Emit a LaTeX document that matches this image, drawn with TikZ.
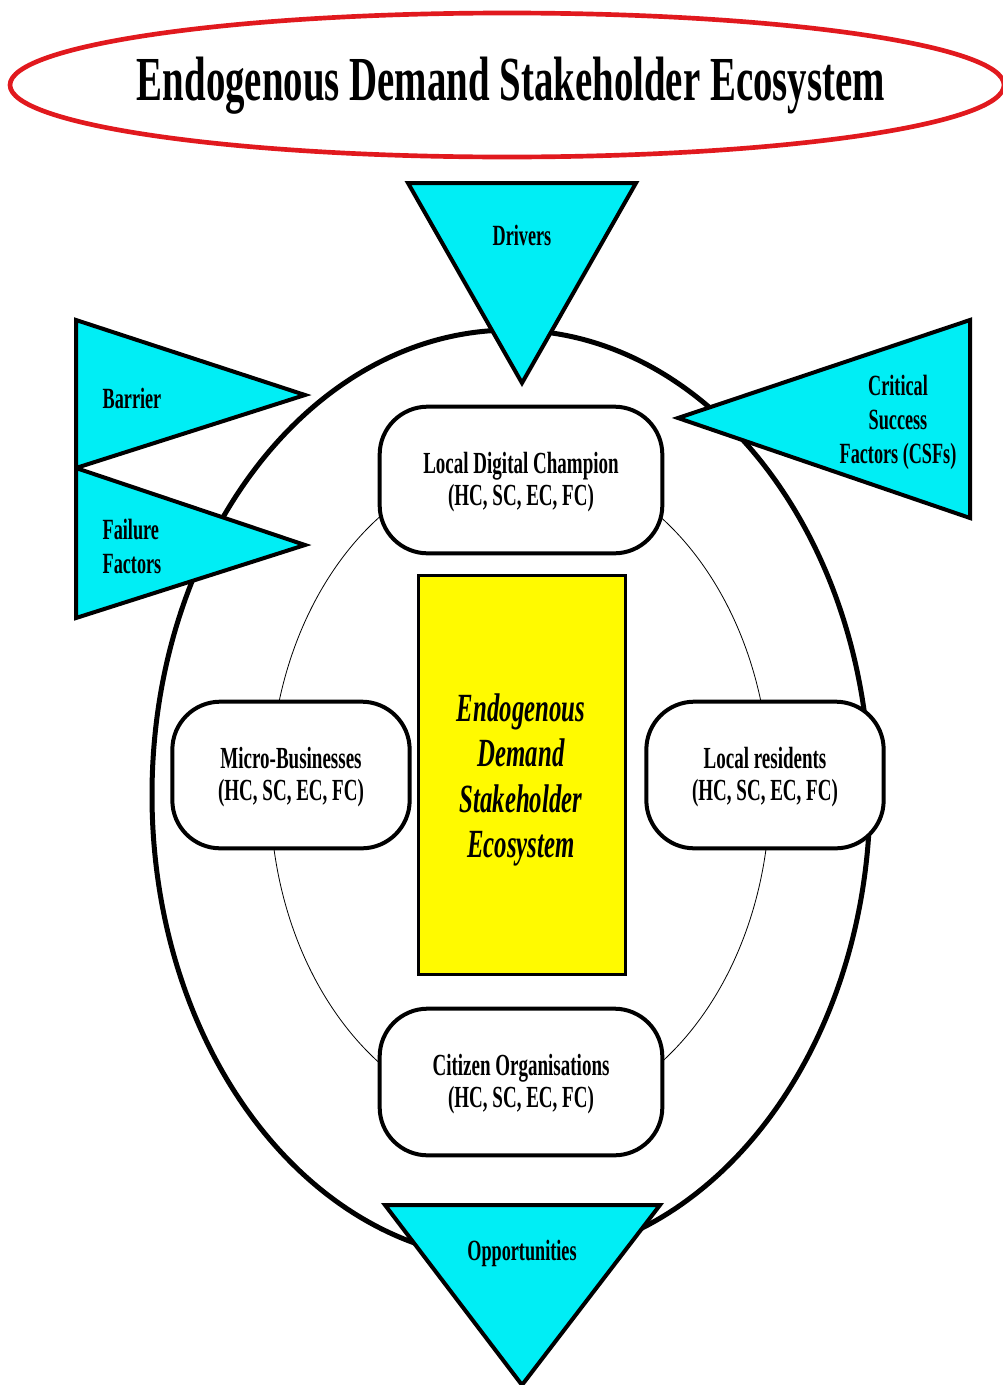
\documentclass[tikz,border=0pt]{standalone}
\usepackage{fontspec}
\setmainfont{Liberation Serif}
\newfontfamily\cond[FakeStretch=0.62]{Liberation Serif}
\definecolor{wedgecyan}{RGB}{0,238,245}
\definecolor{coreyellow}{RGB}{255,250,0}
\definecolor{bannerred}{RGB}{225,25,30}
% two-line stakeholder label, lowered slightly inside its box
\newcommand{\twoline}[2]{\raisebox{-8.5pt}[0pt][0pt]{\begin{tabular}{@{}c@{}}#1\\#2\end{tabular}}}
\begin{document}
\begin{tikzpicture}[x=0.75pt,y=-0.75pt,
  lbl/.style={font=\cond\bfseries\fontsize{22}{25.5}\selectfont, align=center, inner sep=0pt},
  stake/.style={draw=black, line width=3pt, fill=white, rounded corners=36pt,
    minimum width=212pt, minimum height=110pt, align=center, inner sep=0pt,
    font=\cond\bfseries\fontsize{23}{24}\selectfont},
  wedge/.style={draw=black, line width=3pt, fill=wedgecyan, line join=miter}]
\useasboundingbox (0,0) rectangle (1003,1385);

% title banner
\draw[bannerred, line width=3.5pt] (507,85) ellipse [x radius=497, y radius=72];
\node[font=\cond\bfseries\fontsize{47}{50}\selectfont, inner sep=0pt] (title) at (511,86)
  {Endogenous Demand Stakeholder Ecosystem};

% outer ecosystem boundary
\draw[line width=3.75pt] (511,795) ellipse [x radius=359, y radius=465];

% ring linking the four stakeholder groups
\draw[line width=0.6pt] (520,790) ellipse [x radius=250, y radius=330];

% external factor wedges
\draw[wedge] (408,183) -- (636,183) -- (522,383) -- cycle;
\node[lbl] (drivers) at (522,235) {Drivers};

\draw[wedge] (76,320) -- (305,395) -- (76,468) -- cycle;
\node[lbl] (barrier) at (132,398) {Barrier};

\draw[wedge] (76,468) -- (305,545) -- (76,618) -- cycle;
\node[lbl, align=left] (failure) at (132,546) {Failure\\Factors};

\draw[wedge] (970,320) -- (970,518) -- (678,418) -- cycle;
\node[lbl] (csf) at (898,422) {Critical\\Success\\Factors (CSFs)};

\draw[wedge] (385,1205) -- (660,1205) -- (522,1385) -- cycle;
\node[lbl] (opp) at (522,1253) {Opportunities};

% central core
\node[draw=black, line width=2.5pt, fill=coreyellow, minimum width=155pt, minimum height=299pt] (core) at (522,775) {};
\node[align=center, inner sep=0pt, font=\cond\bfseries\itshape\fontsize{30}{34}\selectfont] (coretext)
  at (521,780) {Endogenous\\Demand\\Stakeholder\\Ecosystem};

% stakeholder groups
\node[stake] (ldc) at (521,480) {\twoline{Local Digital Champion}{(HC, SC, EC, FC)}};
\node[stake, minimum width=178pt] (micro) at (291,775) {\twoline{Micro-Businesses}{(HC, SC, EC, FC)}};
\node[stake, minimum width=178pt] (resid) at (765,775) {\twoline{Local residents}{(HC, SC, EC, FC)}};
\node[stake] (citizen) at (521,1082) {\twoline{Citizen Organisations}{(HC, SC, EC, FC)}};
\end{tikzpicture}
\end{document}
